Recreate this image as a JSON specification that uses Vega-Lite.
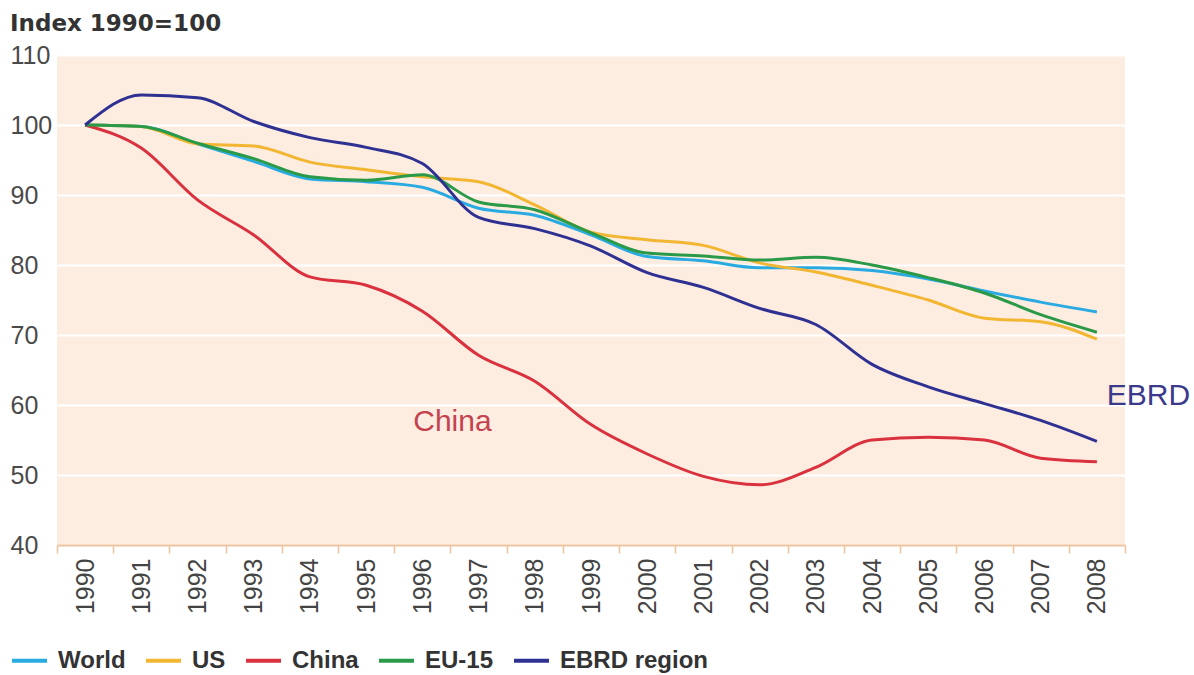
{
  "$schema": "https://vega.github.io/schema/vega-lite/v6.json",
  "width": 1068,
  "height": 490,
  "autosize": "none",
  "padding": {"left": 57, "top": 55, "right": 69, "bottom": 130},
  "background": "white",
  "title": {"text": "Index 1990=100", "anchor": "start", "frame": "group", "dx": -47, "offset": 7, "fontSize": 23, "fontWeight": "bold", "color": "#333333", "font": "DejaVu Sans"},
  "config": {
    "view": {"fill": "#fdede1", "stroke": null},
    "font": "Liberation Sans"
  },
  "datasets": {
    "series": [
      {"year": "1990", "series": "World", "value": 100}, {"year": "1990", "series": "US", "value": 100}, {"year": "1990", "series": "China", "value": 100}, {"year": "1990", "series": "EU-15", "value": 100}, {"year": "1990", "series": "EBRD region", "value": 100},
      {"year": "1991", "series": "World", "value": 99.8}, {"year": "1991", "series": "US", "value": 99.8}, {"year": "1991", "series": "China", "value": 96.7}, {"year": "1991", "series": "EU-15", "value": 99.8}, {"year": "1991", "series": "EBRD region", "value": 104.3},
      {"year": "1992", "series": "World", "value": 97.3}, {"year": "1992", "series": "US", "value": 97.3}, {"year": "1992", "series": "China", "value": 89.3}, {"year": "1992", "series": "EU-15", "value": 97.4}, {"year": "1992", "series": "EBRD region", "value": 103.9},
      {"year": "1993", "series": "World", "value": 94.8}, {"year": "1993", "series": "US", "value": 97.0}, {"year": "1993", "series": "China", "value": 84.3}, {"year": "1993", "series": "EU-15", "value": 95.2}, {"year": "1993", "series": "EBRD region", "value": 100.5},
      {"year": "1994", "series": "World", "value": 92.3}, {"year": "1994", "series": "US", "value": 94.7}, {"year": "1994", "series": "China", "value": 78.3}, {"year": "1994", "series": "EU-15", "value": 92.6}, {"year": "1994", "series": "EBRD region", "value": 98.2},
      {"year": "1995", "series": "World", "value": 91.9}, {"year": "1995", "series": "US", "value": 93.6}, {"year": "1995", "series": "China", "value": 77.1}, {"year": "1995", "series": "EU-15", "value": 92.1}, {"year": "1995", "series": "EBRD region", "value": 96.8},
      {"year": "1996", "series": "World", "value": 91.1}, {"year": "1996", "series": "US", "value": 92.6}, {"year": "1996", "series": "China", "value": 73.4}, {"year": "1996", "series": "EU-15", "value": 92.9}, {"year": "1996", "series": "EBRD region", "value": 94.5},
      {"year": "1997", "series": "World", "value": 88.1}, {"year": "1997", "series": "US", "value": 91.9}, {"year": "1997", "series": "China", "value": 67.1}, {"year": "1997", "series": "EU-15", "value": 89.0}, {"year": "1997", "series": "EBRD region", "value": 86.8},
      {"year": "1998", "series": "World", "value": 87.1}, {"year": "1998", "series": "US", "value": 88.6}, {"year": "1998", "series": "China", "value": 63.4}, {"year": "1998", "series": "EU-15", "value": 87.9}, {"year": "1998", "series": "EBRD region", "value": 85.2},
      {"year": "1999", "series": "World", "value": 84.3}, {"year": "1999", "series": "US", "value": 84.7}, {"year": "1999", "series": "China", "value": 57.2}, {"year": "1999", "series": "EU-15", "value": 84.6}, {"year": "1999", "series": "EBRD region", "value": 82.7},
      {"year": "2000", "series": "World", "value": 81.2}, {"year": "2000", "series": "US", "value": 83.6}, {"year": "2000", "series": "China", "value": 53.0}, {"year": "2000", "series": "EU-15", "value": 81.7}, {"year": "2000", "series": "EBRD region", "value": 78.9},
      {"year": "2001", "series": "World", "value": 80.6}, {"year": "2001", "series": "US", "value": 82.8}, {"year": "2001", "series": "China", "value": 49.8}, {"year": "2001", "series": "EU-15", "value": 81.3}, {"year": "2001", "series": "EBRD region", "value": 76.8},
      {"year": "2002", "series": "World", "value": 79.6}, {"year": "2002", "series": "US", "value": 80.3}, {"year": "2002", "series": "China", "value": 48.6}, {"year": "2002", "series": "EU-15", "value": 80.7}, {"year": "2002", "series": "EBRD region", "value": 73.8},
      {"year": "2003", "series": "World", "value": 79.6}, {"year": "2003", "series": "US", "value": 79.0}, {"year": "2003", "series": "China", "value": 51.1}, {"year": "2003", "series": "EU-15", "value": 81.1}, {"year": "2003", "series": "EBRD region", "value": 71.5},
      {"year": "2004", "series": "World", "value": 79.2}, {"year": "2004", "series": "US", "value": 77.1}, {"year": "2004", "series": "China", "value": 55.0}, {"year": "2004", "series": "EU-15", "value": 80.0}, {"year": "2004", "series": "EBRD region", "value": 65.8},
      {"year": "2005", "series": "World", "value": 78.0}, {"year": "2005", "series": "US", "value": 75.0}, {"year": "2005", "series": "China", "value": 55.4}, {"year": "2005", "series": "EU-15", "value": 78.2}, {"year": "2005", "series": "EBRD region", "value": 62.6},
      {"year": "2006", "series": "World", "value": 76.3}, {"year": "2006", "series": "US", "value": 72.4}, {"year": "2006", "series": "China", "value": 55.0}, {"year": "2006", "series": "EU-15", "value": 76.0}, {"year": "2006", "series": "EBRD region", "value": 60.2},
      {"year": "2007", "series": "World", "value": 74.7}, {"year": "2007", "series": "US", "value": 71.9}, {"year": "2007", "series": "China", "value": 52.4}, {"year": "2007", "series": "EU-15", "value": 72.9}, {"year": "2007", "series": "EBRD region", "value": 57.8},
      {"year": "2008", "series": "World", "value": 73.3}, {"year": "2008", "series": "US", "value": 69.4}, {"year": "2008", "series": "China", "value": 51.9}, {"year": "2008", "series": "EU-15", "value": 70.4}, {"year": "2008", "series": "EBRD region", "value": 54.8}
    ],
    "labels": [
      {"year": "1996", "value": 57.6, "label": "China"},
      {"year": "2008", "value": 61.3, "label": "EBRD"}
    ]
  },
  "layer": [
    {
      "data": {"name": "series"},
      "mark": {"type": "line", "interpolate": "monotone", "strokeWidth": 3},
      "encoding": {
        "x": {
          "field": "year", "type": "ordinal", "bandPosition": 0.5,
          "scale": {"type": "band", "paddingInner": 0, "paddingOuter": 0},
          "axis": {
            "title": null, "labelAngle": -90, "labelAlign": "right", "labelBaseline": "middle",
            "labelFontSize": 25, "labelColor": "#444444", "labelPadding": 5,
            "tickBand": "extent", "tickSize": 8, "tickColor": "#eec3a0", "tickWidth": 1.5,
            "domainColor": "#eec3a0", "domainWidth": 2, "grid": false
          }
        },
        "y": {
          "field": "value", "type": "quantitative",
          "scale": {"domain": [40, 110], "nice": false, "zero": false},
          "axis": {
            "title": null, "values": [40, 50, 60, 70, 80, 90, 100, 110],
            "domain": false, "ticks": false, "tickSize": 0,
            "labelAlign": "left", "labelPadding": 47, "labelFontSize": 25, "labelColor": "#4a4a4a",
            "grid": true, "gridColor": "#ffffff", "gridWidth": 2
          }
        },
        "color": {
          "field": "series", "type": "nominal",
          "scale": {
            "domain": ["World", "US", "China", "EU-15", "EBRD region"],
            "range": ["#29abe2", "#f2b632", "#d9313d", "#2b9a48", "#2e3192"]
          },
          "legend": {
            "title": null, "orient": "none", "legendX": -47, "legendY": 586,
            "direction": "horizontal", "symbolType": "stroke", "symbolSize": 1225,
            "symbolStrokeWidth": 4, "labelFontSize": 24, "labelFontWeight": "bold",
            "labelColor": "#333333", "labelFont": "Liberation Sans", "columnPadding": 12, "labelOffset": 9
          }
        }
      }
    },
    {
      "data": {"name": "labels"},
      "transform": [{"filter": "datum.label === 'China'"}],
      "mark": {"type": "text", "align": "left", "baseline": "middle", "fontSize": 30, "font": "Liberation Sans", "color": "#c4434e", "dx": 19},
      "encoding": {
        "x": {"field": "year", "type": "ordinal", "bandPosition": 0},
        "y": {"field": "value", "type": "quantitative"},
        "text": {"field": "label"}
      }
    },
    {
      "data": {"name": "labels"},
      "transform": [{"filter": "datum.label === 'EBRD'"}],
      "mark": {"type": "text", "align": "left", "baseline": "middle", "fontSize": 30, "font": "Liberation Sans", "color": "#3b3a8a", "dx": 38},
      "encoding": {
        "x": {"field": "year", "type": "ordinal", "bandPosition": 0},
        "y": {"field": "value", "type": "quantitative"},
        "text": {"field": "label"}
      }
    }
  ]
}
